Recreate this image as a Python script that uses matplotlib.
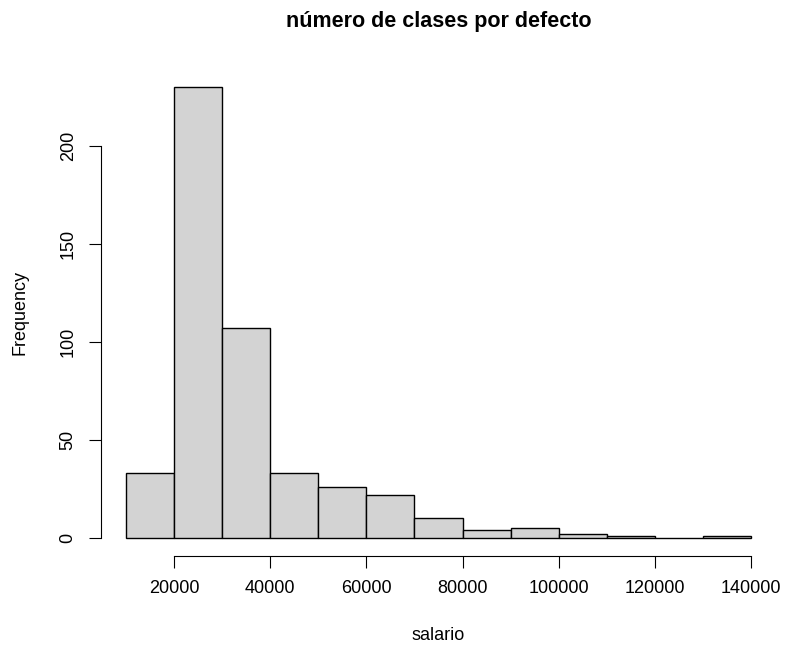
import numpy as np
import matplotlib
matplotlib.use("Agg")
import matplotlib.pyplot as plt

plt.rcParams["font.family"] = ["Liberation Sans", "DejaVu Sans"]

# histogram bins (salario) and counts
bin_edges = [10000, 20000, 30000, 40000, 50000, 60000, 70000,
             80000, 90000, 100000, 110000, 120000, 130000, 140000]
counts = [33, 230, 107, 33, 26, 22, 10, 4, 5, 2, 1, 0, 1]
x_ticks = [20000, 40000, 60000, 80000, 100000, 120000, 140000]
y_ticks = [0, 50, 100, 150, 200]

fig = plt.figure(figsize=(7.88, 6.52), dpi=100)
ax = fig.add_axes([101 / 788, 1 - 556 / 652, (776 - 101) / 788, (556 - 69) / 652])

lefts = np.array(bin_edges[:-1])
widths = np.diff(bin_edges)
ax.bar(lefts, counts, width=widths, align="edge",
       facecolor="#D3D3D3", edgecolor="black", linewidth=1.0)

span = bin_edges[-1] - bin_edges[0]
ax.set_xlim(bin_edges[0] - 0.04 * span, bin_edges[-1] + 0.04 * span)
ax.set_ylim(-0.04 * max(counts), max(counts) * 1.04)

for side in ["top", "right"]:
    ax.spines[side].set_visible(False)
ax.spines["bottom"].set_bounds(x_ticks[0], x_ticks[-1])
ax.spines["left"].set_bounds(y_ticks[0], y_ticks[-1])

ax.set_xticks(x_ticks)
ax.set_xticklabels([str(v) for v in x_ticks])
ax.set_yticks(y_ticks)
ax.set_yticklabels([str(v) for v in y_ticks], rotation=90, va="center")
ax.tick_params(axis="both", length=8.5, width=0.8, labelsize=13, pad=9)

ax.set_xlabel("salario", fontsize=13, va="center")
ax.xaxis.set_label_coords(0.5, (556 - 635) / 487)
ax.set_ylabel("Frequency", fontsize=13, va="center", ha="center")
ax.yaxis.set_label_coords((20 - 101) / 675, 0.5)
ax.text(0.5, (556 - 22) / 487, "número de clases por defecto", transform=ax.transAxes,
        fontsize=15.5, fontweight="bold", ha="center", va="center")

fig.savefig("out.png", dpi=100)
